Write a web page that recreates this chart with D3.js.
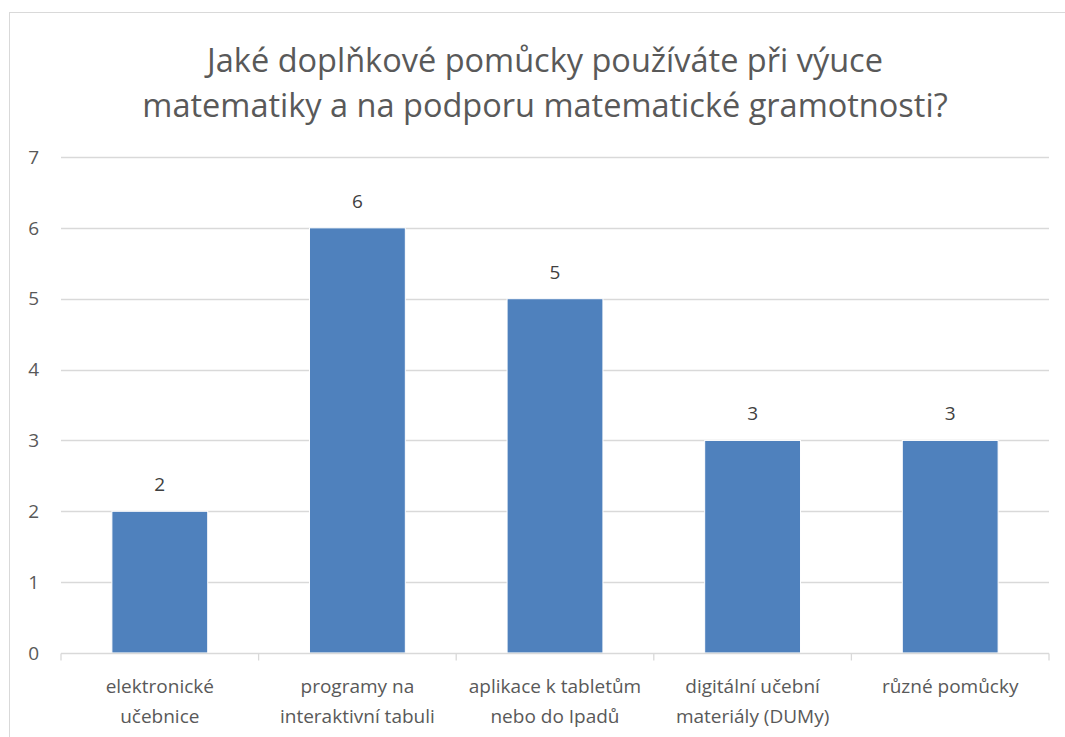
<!DOCTYPE html>
<html>
<head>
<meta charset="utf-8">
<script src="https://cdn.jsdelivr.net/npm/d3@7"></script>
<style>
  body { margin: 0; background: #fff; }
  svg { font-family: "Open Sans", "Noto Sans", sans-serif; }
</style>
</head>
<body>
<div id="chart"></div>
<script>
// data
var categories = [
  ["elektronické", "učebnice"],
  ["programy na", "interaktivní tabuli"],
  ["aplikace k tabletům", "nebo do Ipadů"],
  ["digitální učební", "materiály (DUMy)"],
  ["různé pomůcky"]
];
var values = [2, 6, 5, 3, 3];
var yTicks = [0, 1, 2, 3, 4, 5, 6, 7];
var titleLines = ["Jaké doplňkové pomůcky používáte při výuce",
                  "matematiky a na podporu matematické gramotnosti?"];

var width = 1065, height = 737;
var margin = {top: 157, right: 16, bottom: 84, left: 61};

var svg = d3.select("#chart").append("svg")
  .attr("width", width)
  .attr("height", height);

// chart border
svg.append("rect")
  .attr("x", 9.5).attr("y", 12.5)
  .attr("width", 1065).attr("height", 740)
  .attr("fill", "none")
  .attr("stroke", "#d9d9d9");

var x = d3.scaleBand()
  .domain(d3.range(categories.length))
  .range([margin.left, width - margin.right])
  .paddingInner(0.515)
  .paddingOuter(0.2575);

var xOuter = d3.scaleBand()
  .domain(d3.range(categories.length))
  .range([margin.left, width - margin.right]);

var y = d3.scaleLinear()
  .domain([0, 7])
  .range([height - margin.bottom, margin.top]);

// title
svg.append("text")
  .attr("fill", "#595959")
  .attr("font-size", 32.5)
  .attr("text-anchor", "middle")
  .selectAll("tspan")
  .data(titleLines)
  .enter().append("tspan")
  .attr("x", 545)
  .attr("y", function(d, i) { return 72 + i * 45; })
  .text(function(d) { return d; });

// gridlines
svg.append("g")
  .selectAll("line")
  .data(yTicks.slice(1))
  .enter().append("line")
  .attr("x1", margin.left).attr("x2", width - margin.right)
  .attr("y1", function(d) { return Math.round(y(d)) + 0.5; })
  .attr("y2", function(d) { return Math.round(y(d)) + 0.5; })
  .attr("stroke", "#d9d9d9")
  .attr("stroke-width", 1.3);

// y labels
svg.append("g")
  .selectAll("text")
  .data(yTicks)
  .enter().append("text")
  .attr("x", 39)
  .attr("y", function(d) { return y(d); })
  .attr("dy", "0.35em")
  .attr("text-anchor", "end")
  .attr("fill", "#595959")
  .attr("font-size", 19)
  .text(function(d) { return d; });

// bars
svg.append("g")
  .selectAll("rect")
  .data(values)
  .enter().append("rect")
  .attr("x", function(d, i) { return x(i); })
  .attr("width", x.bandwidth())
  .attr("y", function(d) { return y(d); })
  .attr("height", function(d) { return y(0) - y(d); })
  .attr("fill", "#4f81bd")
  .attr("stroke", "#fff")
  .attr("stroke-width", 1);

// value labels
svg.append("g")
  .selectAll("text")
  .data(values)
  .enter().append("text")
  .attr("x", function(d, i) { return x(i) + x.bandwidth() / 2; })
  .attr("y", function(d) { return y(d) - 20; })
  .attr("text-anchor", "middle")
  .attr("fill", "#404040")
  .attr("font-size", 19)
  .text(function(d) { return d; });

// x axis
var axis = svg.append("g")
  .attr("transform", "translate(0," + (Math.round(y(0)) + 0.5) + ")");
axis.append("line")
  .attr("x1", margin.left).attr("x2", width - margin.right)
  .attr("stroke", "#d9d9d9").attr("stroke-width", 1.3);
axis.selectAll("line.tick")
  .data(d3.range(categories.length + 1))
  .enter().append("line")
  .attr("class", "tick")
  .attr("x1", function(d) { return d < categories.length ? xOuter(d) : width - margin.right; })
  .attr("x2", function(d) { return d < categories.length ? xOuter(d) : width - margin.right; })
  .attr("y1", 0).attr("y2", 7)
  .attr("stroke", "#d9d9d9").attr("stroke-width", 1.3);

// category labels
svg.append("g")
  .selectAll("text")
  .data(categories)
  .enter().append("text")
  .attr("text-anchor", "middle")
  .attr("fill", "#595959")
  .attr("font-size", 19)
  .each(function(d, i) {
    var cx = xOuter(i) + xOuter.bandwidth() / 2;
    d3.select(this).selectAll("tspan")
      .data(d)
      .enter().append("tspan")
      .attr("x", cx)
      .attr("y", function(t, j) { return 693 + j * 30; })
      .text(function(t) { return t; });
  });
</script>
</body>
</html>
